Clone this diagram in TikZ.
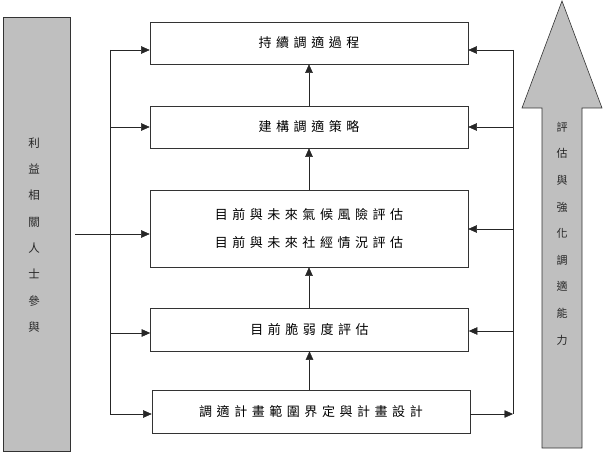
\documentclass[tikz,border=0pt]{standalone}
\usepackage{fontspec}
\newfontfamily\cjk[LetterSpace=35]{Noto Sans CJK TC}
\newfontfamily\cjkv{Noto Sans CJK TC}
\usetikzlibrary{arrows.meta,positioning,calc}
\tikzset{
  stagebox/.style = {draw=black!80, semithick, rectangle, minimum width=318pt,
                     minimum height=42pt, inner sep=0pt, align=center,
                     font=\cjk\fontsize{13}{28}\selectfont},
  sidetext/.style = {align=center, inner sep=0pt, text=black!85},
  flow/.style     = {-{Triangle[length=8.5pt,width=7.5pt]}, black!85},
  bus/.style      = {black!85},
  band/.style     = {draw=black!80, fill=black!25, semithick},
}
\begin{document}
\begin{tikzpicture}[x=1pt,y=-1pt]
\useasboundingbox (0,0) rectangle (603,476);
% side bands
\draw[band] (3,17) rectangle (70,451);
\node[sidetext,font=\cjkv\fontsize{11.5}{26.3}\selectfont] (stake) at (34,235)
  {利\\益\\相\\關\\人\\士\\參\\與};
\draw[band] (542,448) -- (542,108) -- (522,108) -- (562,1) -- (602,108)
  -- (582,108) -- (582,448) -- cycle;
\node[sidetext,font=\cjkv\fontsize{11}{26.6}\selectfont] (capa) at (562,233.5)
  {評\\估\\與\\強\\化\\調\\適\\能\\力};
% stages
\node[stagebox] (proc) at (309,43) {持續調適過程};
\node[stagebox] (strat) at (309,127) {建構調適策略};
\node[stagebox,minimum height=77pt] (risk) at (309,228.5)
  {目前與未來氣候風險評估\\目前與未來社經情況評估};
\node[stagebox,minimum height=43pt] (vuln) at (309.5,329.5) {目前脆弱度評估};
\node[stagebox,minimum height=43pt] (scope) at (311,411.5) {調適計畫範圍界定與計畫設計};
% upward flow
\draw[flow] (scope.north -| vuln.south) -- (vuln.south);
\draw[flow] (vuln.north -| risk.south) -- (risk.south);
\draw[flow] (risk.north -| strat.south) -- (strat.south);
\draw[flow] (strat.north -| proc.south) -- (proc.south);
% left bus
\coordinate (ltop) at (110,50);
\coordinate (lbot) at (110,414);
\coordinate (sin) at (75,234);
\draw[bus] (ltop) -- (lbot);
\draw[flow] (ltop) -- (ltop -| proc.west);
\draw[flow] (ltop |- strat.west) -- (strat.west);
\draw[flow] (sin) -- (sin -| risk.west);
\draw[flow] (ltop |- 0,333) coordinate (lv) -- (lv -| vuln.west);
\draw[flow] (lbot) -- (lbot -| scope.west);
% right bus
\coordinate (rtop) at (513,50);
\coordinate (rbot) at (513,414);
\draw[bus] (rtop) -- (rbot);
\draw[flow] (rtop) -- (rtop -| proc.east);
\draw[flow] (rtop |- strat.east) -- (strat.east);
\draw[flow] (rtop |- 0,229) coordinate (rr) -- (rr -| risk.east);
\draw[flow] (rtop |- 0,331) coordinate (rv) -- (rv -| vuln.east);
\draw[flow] (rbot -| scope.east) -- (rbot);
\end{tikzpicture}
\end{document}
